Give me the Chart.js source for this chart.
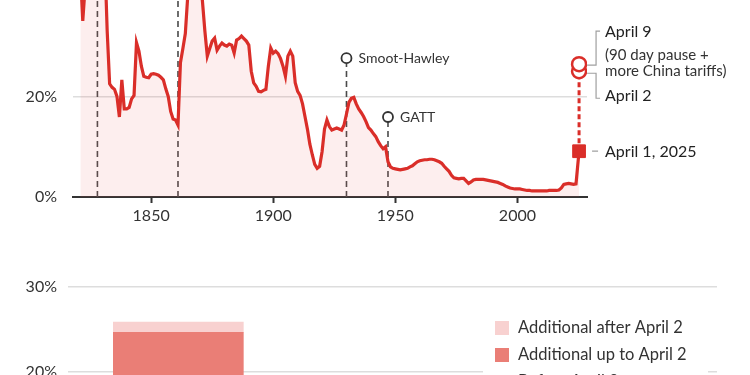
<!DOCTYPE html>
<html>
<head>
<meta charset="utf-8">
<script src="https://cdn.jsdelivr.net/npm/chart.js@4/dist/chart.umd.min.js"></script>
<style>
  html, body { margin: 0; padding: 0; background: #fff; }
  body { width: 750px; height: 375px; overflow: hidden; position: relative; }
  canvas { position: absolute; left: 0; }
  #tariffChart { top: -140px; }
  #stackChart { top: 244px; }
</style>
</head>
<body>
<canvas id="tariffChart" width="750" height="367"></canvas>
<canvas id="stackChart" width="750" height="300"></canvas>
<script>
// Average US tariff rate, %
const years = [
  1821, 1822, 1823, 1824, 1825, 1826, 1827, 1828, 1829, 1830,
  1831, 1832, 1833, 1834, 1835, 1836, 1837, 1838, 1839, 1840,
  1841, 1842, 1843, 1844, 1845, 1846, 1847, 1848, 1849, 1850,
  1851, 1852, 1853, 1854, 1855, 1856, 1857, 1858, 1859, 1860,
  1861, 1862, 1863, 1864, 1865, 1866, 1867, 1868, 1869, 1870,
  1871, 1872, 1873, 1874, 1875, 1876, 1877, 1878, 1879, 1880,
  1881, 1882, 1883, 1884, 1885, 1886, 1887, 1888, 1889, 1890,
  1891, 1892, 1893, 1894, 1895, 1896, 1897, 1898, 1899, 1900,
  1901, 1902, 1903, 1904, 1905, 1906, 1907, 1908, 1909, 1910,
  1911, 1912, 1913, 1914, 1915, 1916, 1917, 1918, 1919, 1920,
  1921, 1922, 1923, 1924, 1925, 1926, 1927, 1928, 1929, 1930,
  1931, 1932, 1933, 1934, 1935, 1936, 1937, 1938, 1939, 1940,
  1941, 1942, 1943, 1944, 1945, 1946, 1947, 1948, 1949, 1950,
  1951, 1952, 1953, 1954, 1955, 1956, 1957, 1958, 1959, 1960,
  1961, 1962, 1963, 1964, 1965, 1966, 1967, 1968, 1969, 1970,
  1971, 1972, 1973, 1974, 1975, 1976, 1977, 1978, 1979, 1980,
  1981, 1982, 1983, 1984, 1985, 1986, 1987, 1988, 1989, 1990,
  1991, 1992, 1993, 1994, 1995, 1996, 1997, 1998, 1999, 2000,
  2001, 2002, 2003, 2004, 2005, 2006, 2007, 2008, 2009, 2010,
  2011, 2012, 2013, 2014, 2015, 2016, 2017, 2018, 2019, 2020,
  2021, 2022, 2023, 2024
];
const rates = [
  45, 35, 42, 45, 44, 46, 45, 49, 54, 57,
  48, 33, 22.5, 21.8, 21.4, 20, 15.9, 23.3, 17.5, 17.5,
  17.8, 19.5, 20.2, 30.7, 29, 26, 24, 23.8, 23.7, 24.4,
  24.5, 24.4, 24.2, 23.8, 23.3, 21.5, 20, 17, 15.5, 15.3,
  14.3, 26.7, 29.5, 32.5, 40, 46, 47, 47, 45, 44,
  39, 33, 28, 29.5, 31, 31.6, 29.2, 30, 30.6, 30.2,
  30, 30.4, 30.2, 28.6, 31.2, 31.5, 32, 31.5, 31, 30.2,
  25, 22.7, 22, 21, 20.9, 21.2, 21.4, 26, 29.6, 28.6,
  29, 28.5, 27.5, 26, 24, 28, 29, 28, 22.7, 21,
  20.2, 18.5, 16, 13.5, 10.5, 8.4, 6.5, 5.7, 6.1, 9,
  13.5, 15.3, 14, 13.3, 13.5, 13.7, 13.5, 13.3, 14.3, 16.5,
  18.8, 19.6, 19.8, 18.5, 17.5, 16.8, 16, 15, 13.8, 13.3,
  12.6, 12, 11, 10.2, 9.6, 10, 7, 6, 5.7, 5.6,
  5.5, 5.4, 5.5, 5.6, 5.7, 6, 6.2, 6.6, 7, 7.2,
  7.3, 7.4, 7.4, 7.5, 7.5, 7.4, 7.2, 7, 6.7, 6.1,
  5.6, 5.1, 4.3, 3.8, 3.7, 3.6, 3.7, 3.7, 3.2, 2.7,
  3, 3.4, 3.5, 3.5, 3.5, 3.5, 3.4, 3.3, 3.2, 3.1,
  3, 2.9, 2.7, 2.5, 2.2, 2, 1.8, 1.7, 1.6, 1.6,
  1.6, 1.5, 1.4, 1.3, 1.3, 1.2, 1.2, 1.2, 1.2, 1.2,
  1.2, 1.2, 1.3, 1.3, 1.3, 1.3, 1.4, 1.8, 2.5, 2.6,
  2.7, 2.6, 2.5, 2.6
];
const xTicks = [1850, 1900, 1950, 2000];
const yTicks = [0, 20];

// marked moments
const eraYears = [1828, 1861];
const eventNames = ['Smoot-Hawley', 'GATT'];
const eventYears = [1930, 1947];
const eventRates = [27.6, 15.9];

const aprilYear = 2025.25;
const aprilLabels = ['April 1, 2025', 'April 2', 'April 9'];
const aprilRates = [9.1, 25.0, 26.4];

// lower chart: stacked bar
const stackLabels = ['Before April 2', 'Additional up to April 2', 'Additional after April 2'];
const stackValues = [9.1, 15.55, 1.2];
const stackColors = ['#d9342f', '#ea7e76', '#f8d1d0'];
const stackTicks = [0, 10, 20, 30];

Chart.defaults.font.family = 'Lato, sans-serif';
Chart.defaults.color = '#333';

const RED = '#da2e29';

// keep the plot area exactly where the axes put it
function noEdgePadding(s) {
    s.paddingTop = 0;
    s.paddingBottom = 0;
}

const topNotes = {
    id: 'topNotes',
    afterDatasetsDraw(chart) {
        const ctx = chart.ctx;
        const x = chart.scales.x, y = chart.scales.y;
        ctx.save();
        ctx.textBaseline = 'middle';
        ctx.textAlign = 'left';
        ctx.font = '14px Lato, sans-serif';
        ctx.fillStyle = '#333';
        eventNames.forEach((n, i) => {
            ctx.fillText(n, x.getPixelForValue(eventYears[i]) + 12, y.getPixelForValue(eventRates[i]));
        });

        const ax = x.getPixelForValue(aprilYear);
        const p1 = y.getPixelForValue(aprilRates[0]);
        const p2 = y.getPixelForValue(aprilRates[1]);
        const p9 = y.getPixelForValue(aprilRates[2]);
        const bx = ax + 17;

        // grey brackets
        ctx.strokeStyle = '#a0a0a0';
        ctx.lineWidth = 1.2;
        ctx.beginPath();
        ctx.moveTo(ax + 8, p9 + 1); ctx.lineTo(bx, p9 + 1); ctx.lineTo(bx, p9 - 33); ctx.lineTo(bx + 4, p9 - 33);
        ctx.moveTo(ax + 8, p2 + 2); ctx.lineTo(bx, p2 + 2); ctx.lineTo(bx, p2 + 27); ctx.lineTo(bx + 4, p2 + 27);
        ctx.moveTo(ax + 13, p1); ctx.lineTo(ax + 19, p1);
        ctx.stroke();

        const tx = ax + 26;
        ctx.fillStyle = '#222';
        ctx.font = '16px Lato, sans-serif';
        ctx.fillText(aprilLabels[2], tx, p9 - 32);
        ctx.fillText(aprilLabels[1], tx, p2 + 25);
        ctx.fillText(aprilLabels[0], tx, p1 + 1);
        ctx.font = '15px Lato, sans-serif';
        ctx.fillStyle = '#333';
        ctx.fillText('(90 day pause +', tx, p9 - 9);
        ctx.fillText('more China tariffs)', tx, p9 + 7);
        ctx.restore();
    }
};

const dashStyle = { borderColor: '#4a4a4a', borderWidth: 1.6, borderDash: [6, 4], pointRadius: 0, fill: false, order: 3 };

const tariffSets = [
    {
        data: [{ x: aprilYear, y: aprilRates[0] }],
        showLine: false, pointStyle: 'rect', pointRadius: 9,
        pointBackgroundColor: RED, pointBorderColor: RED, order: 0
    },
    {
        data: [{ x: aprilYear, y: aprilRates[1] }, { x: aprilYear, y: aprilRates[2] }],
        showLine: false, pointRadius: 7, pointBorderWidth: 2.5,
        pointBackgroundColor: '#fff', pointBorderColor: RED, order: 0
    },
    {
        data: eventYears.map((yr, i) => ({ x: yr, y: eventRates[i] })),
        showLine: false, pointRadius: 5, pointBorderWidth: 1.8,
        pointBackgroundColor: '#fff', pointBorderColor: '#333', order: 0
    },
    {
        data: years.map((yr, i) => ({ x: yr, y: rates[i] })).concat([{ x: aprilYear, y: aprilRates[0] }]),
        borderColor: RED, borderWidth: 3.2, pointRadius: 0,
        fill: 'origin', backgroundColor: 'rgba(232, 90, 90, 0.1)', order: 1
    },
    {
        data: [{ x: aprilYear, y: aprilRates[0] }, { x: aprilYear, y: aprilRates[1] }],
        borderColor: RED, borderWidth: 3, borderDash: [5, 3], pointRadius: 0, fill: false, order: 2
    }
];
eraYears.forEach(yr => tariffSets.push(Object.assign({ data: [{ x: yr, y: 0 }, { x: yr, y: 65 }] }, dashStyle)));
eventYears.forEach((yr, i) => tariffSets.push(Object.assign({ data: [{ x: yr, y: 0 }, { x: yr, y: eventRates[i] }] }, dashStyle)));

new Chart(document.getElementById('tariffChart'), {
    type: 'line',
    data: { datasets: tariffSets },
    options: {
        responsive: false,
        animation: false,
        layout: { padding: { left: 0, right: 163, top: 0, bottom: 0 } },
        plugins: { legend: { display: false }, tooltip: { enabled: false } },
        scales: {
            x: {
                type: 'linear', min: 1818, max: 2028.5,
                afterFit: s => { s.height = 30; s.paddingLeft = 0; s.paddingRight = 0; },
                afterBuildTicks: s => { s.ticks = xTicks.map(v => ({ value: v })); },
                grid: { drawOnChartArea: false, drawTicks: true, tickLength: 6, tickColor: '#333', tickWidth: 2 },
                border: { display: true, color: '#333', width: 2 },
                ticks: { padding: 3, color: '#333', font: { size: 16 }, callback: v => String(v) }
            },
            y: {
                min: 0, max: 65,
                afterFit: s => { s.width = 73; noEdgePadding(s); },
                afterBuildTicks: s => { s.ticks = yTicks.map(v => ({ value: v })); },
                grid: { color: '#dddddd', lineWidth: 1.5, drawTicks: false },
                border: { display: false },
                ticks: { padding: 16, color: '#333', font: { size: 16 }, callback: v => v + '%' }
            }
        }
    },
    plugins: [topNotes]
});

const legendBox = {
    id: 'legendBox',
    afterDraw(chart) {
        const ctx = chart.ctx;
        const sets = chart.data.datasets.slice().reverse();
        ctx.save();
        ctx.fillStyle = '#fff';
        ctx.fillRect(483, 66, 225, 120);
        ctx.font = '16.5px Lato, sans-serif';
        ctx.textBaseline = 'middle';
        ctx.textAlign = 'left';
        sets.forEach((ds, i) => {
            const top = 77 + i * 27;
            ctx.fillStyle = ds.backgroundColor;
            ctx.fillRect(495, top, 14, 14);
            ctx.fillStyle = '#333';
            ctx.fillText(ds.label, 518, top + 7);
        });
        ctx.restore();
    }
};

new Chart(document.getElementById('stackChart'), {
    type: 'bar',
    data: {
        datasets: stackLabels.map((lab, i) => ({
            label: lab,
            data: [{ x: 0, y: stackValues[i] }],
            backgroundColor: stackColors[i],
            barThickness: 130
        }))
    },
    options: {
        responsive: false,
        animation: false,
        layout: { padding: { left: 0, right: 33, top: 0, bottom: 1.5 } },
        plugins: { legend: { display: false }, tooltip: { enabled: false } },
        scales: {
            x: { type: 'linear', min: -0.51, max: 2.49, offset: false, display: false, stacked: true },
            y: {
                stacked: true, min: 0, max: 35,
                afterFit: s => { s.width = 68; noEdgePadding(s); },
                afterBuildTicks: s => { s.ticks = stackTicks.map(v => ({ value: v })); },
                grid: { color: '#dddddd', lineWidth: 1.5, drawTicks: false },
                border: { display: false },
                ticks: { padding: 11, color: '#333', font: { size: 16 }, callback: v => v + '%' }
            }
        }
    },
    plugins: [legendBox]
});
</script>
</body>
</html>
